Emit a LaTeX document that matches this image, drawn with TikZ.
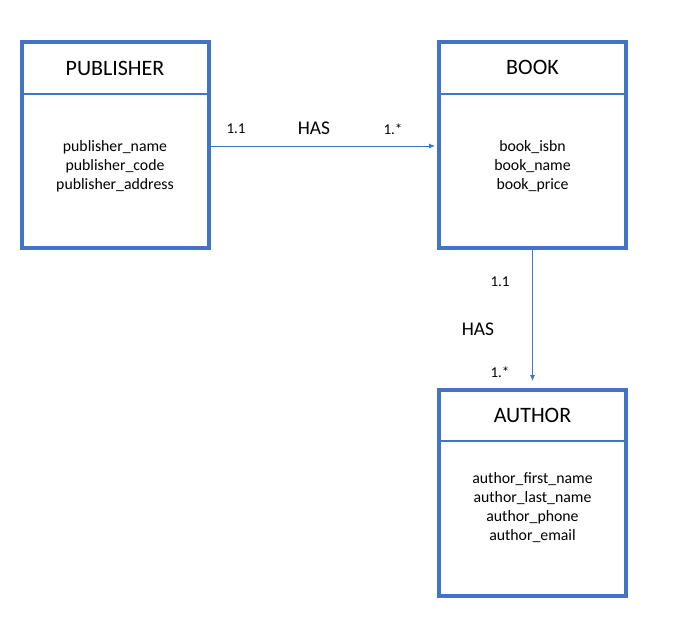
\documentclass[tikz,border=0pt]{standalone}
\usepackage{fontspec}
\setmainfont{Carlito}
\usetikzlibrary{arrows.meta}
\definecolor{boxblue}{HTML}{4472C4}
\begin{document}
\begin{tikzpicture}
	[x=1pt,y=-1pt,
	entity/.style={rectangle,draw=boxblue,line width=4pt,outer sep=0pt,inner sep=0pt,
		minimum width=187pt,minimum height=206pt},
	divider/.style={draw=boxblue,line width=2pt},
	title/.style={font=\fontsize{22}{24}\selectfont},
	attrs/.style={font=\fontsize{15.8}{19}\selectfont,align=center},
	card/.style={font=\fontsize{15}{17}\selectfont},
	rel/.style={font=\fontsize{19.4}{22}\selectfont},
	link/.style={draw=boxblue,line width=0.8pt,-{Latex[length=6pt,width=5pt]}}]
	\useasboundingbox (0,0) rectangle (683,633);
	% entities
	\path node (publisher) at (115,145)   [entity] {}
		  node (book)      at (532.5,145) [entity] {}
		  node (author)    at (532.5,493) [entity] {};
	\draw[divider] (publisher.west |- 0,94) -- (publisher.east |- 0,94);
	\draw[divider] (book.west |- 0,94) -- (book.east |- 0,94);
	\draw[divider] (author.west |- 0,441) -- (author.east |- 0,441);
	\path node (publishertitle) at (115,68)   [title] {PUBLISHER}
		  node (booktitle)      at (532.5,67) [title] {BOOK}
		  node (authortitle)    at (532.5,415) [title] {AUTHOR};
	\path node (publisherattrs) at (115,166)   [attrs] {publisher\_name\\publisher\_code\\publisher\_address}
		  node (bookattrs)      at (532.5,166) [attrs] {book\_isbn\\book\_name\\book\_price}
		  node (authorattrs)    at (532.5,508) [attrs] {author\_first\_name\\author\_last\_name\\author\_phone\\author\_email};
	% relationships
	\coordinate (pubout) at (publisher.east |- 0,146);
	\coordinate (bookin) at (book.west |- 0,146);
	\draw[link,shorten >=4pt] (pubout) -- (bookin);
	\draw[link,shorten >=9pt] (book.south) -- (author.north);
	\path node (pubcard)   at (236,129) [card] {1.1}
		  node (pubhas)    at (314,128) [rel]  {HAS}
		  node (bookcard)  at (393,129) [card] {1.*}
		  node (bookcard2) at (500,282) [card] {1.1}
		  node (bookhas)   at (478,329) [rel]  {HAS}
		  node (authcard)  at (500,372) [card] {1.*};
\end{tikzpicture}
\end{document}
